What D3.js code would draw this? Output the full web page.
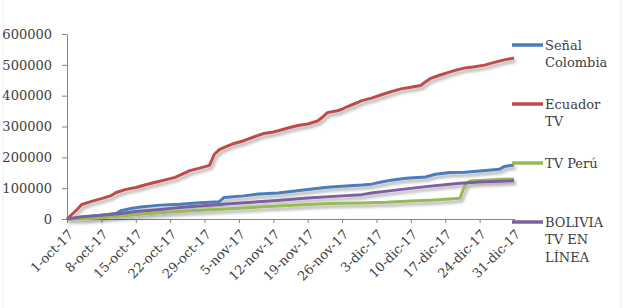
<!DOCTYPE html>
<html>
<head>
<meta charset="utf-8">
<script src="https://cdn.jsdelivr.net/npm/d3@7"></script>
<style>
  body { margin: 0; background: #fff; }
</style>
</head>
<body>
<div id="wrapper"></div>
<script>

// data

const tickDates = ["2017-10-01", "2017-10-08", "2017-10-15", "2017-10-22", "2017-10-29",
  "2017-11-05", "2017-11-12", "2017-11-19", "2017-11-26", "2017-12-03",
  "2017-12-10", "2017-12-17", "2017-12-24", "2017-12-31"];
const tickLabels = ["1-oct-17", "8-oct-17", "15-oct-17", "22-oct-17", "29-oct-17",
  "5-nov-17", "12-nov-17", "19-nov-17", "26-nov-17", "3-dic-17",
  "10-dic-17", "17-dic-17", "24-dic-17", "31-dic-17"];
const yTicks = [0, 100000, 200000, 300000, 400000, 500000, 600000];

const colombiaDates = ["2017-10-01", "2017-10-04", "2017-10-08", "2017-10-11", "2017-10-12", "2017-10-14",
  "2017-10-16", "2017-10-20", "2017-10-24", "2017-10-28", "2017-10-31", "2017-11-01", "2017-11-02",
  "2017-11-06", "2017-11-09", "2017-11-13", "2017-11-16", "2017-11-19", "2017-11-23", "2017-11-26",
  "2017-11-30", "2017-12-02", "2017-12-04", "2017-12-06", "2017-12-09", "2017-12-13", "2017-12-15",
  "2017-12-18", "2017-12-21", "2017-12-24", "2017-12-28", "2017-12-29", "2017-12-31"];
const colombiaValues = [0, 5000, 12000, 18000, 27000, 34000,
  39000, 45000, 48000, 53000, 55000, 56000, 70000,
  75000, 81000, 84000, 90000, 96000, 103000, 106000,
  110000, 113000, 120000, 126000, 132000, 136000, 145000,
  151000, 152000, 156000, 161000, 170000, 175000];

const ecuadorDates = ["2017-10-01", "2017-10-03", "2017-10-04", "2017-10-06", "2017-10-08", "2017-10-10",
  "2017-10-11", "2017-10-13", "2017-10-15", "2017-10-17", "2017-10-19", "2017-10-21", "2017-10-23",
  "2017-10-24", "2017-10-26", "2017-10-28", "2017-10-30", "2017-10-31", "2017-11-01", "2017-11-02",
  "2017-11-04", "2017-11-06", "2017-11-08", "2017-11-10", "2017-11-12", "2017-11-13", "2017-11-15",
  "2017-11-17", "2017-11-19", "2017-11-21", "2017-11-22", "2017-11-23", "2017-11-25", "2017-11-26",
  "2017-11-27", "2017-11-29", "2017-11-30", "2017-12-02", "2017-12-04", "2017-12-06", "2017-12-08",
  "2017-12-10", "2017-12-12", "2017-12-13", "2017-12-14", "2017-12-16", "2017-12-18", "2017-12-19",
  "2017-12-21", "2017-12-23", "2017-12-25", "2017-12-27", "2017-12-29", "2017-12-31"];
const ecuadorValues = [0, 30000, 47000, 57000, 66000, 76000,
  86000, 96000, 102000, 111000, 119000, 127000, 135000,
  142000, 157000, 165000, 174000, 210000, 225000, 232000,
  245000, 254000, 266000, 277000, 282000, 286000, 295000,
  303000, 308000, 318000, 330000, 345000, 351000, 356000,
  364000, 377000, 384000, 392000, 403000, 413000, 422000,
  427000, 433000, 445000, 456000, 467000, 477000, 482000,
  490000, 494000, 499000, 508000, 516000, 522000];

const peruDates = ["2017-10-01", "2017-10-05", "2017-10-09", "2017-10-13", "2017-10-17", "2017-10-21",
  "2017-10-26", "2017-10-31", "2017-11-05", "2017-11-10", "2017-11-15", "2017-11-20", "2017-11-25",
  "2017-11-30", "2017-12-05", "2017-12-10", "2017-12-15", "2017-12-20", "2017-12-21", "2017-12-22",
  "2017-12-25", "2017-12-28", "2017-12-31"];
const peruValues = [0, 1000, 6000, 11000, 17000, 22000,
  27000, 31000, 35000, 40000, 44000, 48000, 51000,
  52000, 54000, 58000, 62000, 67000, 110000, 123000,
  126000, 129000, 130000];

const boliviaDates = ["2017-10-01", "2017-10-04", "2017-10-08", "2017-10-12", "2017-10-15", "2017-10-20",
  "2017-10-24", "2017-10-28", "2017-11-01", "2017-11-06", "2017-11-12", "2017-11-19", "2017-11-26",
  "2017-11-30", "2017-12-02", "2017-12-06", "2017-12-13", "2017-12-20", "2017-12-24", "2017-12-31"];
const boliviaValues = [0, 7000, 12000, 18000, 24000, 31000,
  37000, 42000, 47000, 53000, 59000, 68000, 75000,
  79000, 84000, 92000, 105000, 116000, 120000, 124000];

const seriesNames = ["Señal Colombia", "Ecuador TV", "TV Perú", "BOLIVIA TV EN LÍNEA"];
const legendLines = [["Señal", "Colombia"], ["Ecuador", "TV"], ["TV Perú"], ["BOLIVIA", "TV EN", "LÍNEA"]];
const seriesColors = ["#4a7ebb", "#be4b48", "#98b954", "#7d60a0"];

const FONT = "'DejaVu Serif', serif";
const TEXT_COLOR = "#404040";

// chart dimensions

const dms = {
  width: 634,
  height: 308,
  margins: { top: 34, right: 120, bottom: 89, left: 67 }
};
dms.innerWidth = 514 - dms.margins.left;
dms.innerHeight = 219 - dms.margins.top;

const parseDate = d3.utcParse("%Y-%m-%d");

const series = [
  [colombiaDates, colombiaValues],
  [ecuadorDates, ecuadorValues],
  [peruDates, peruValues],
  [boliviaDates, boliviaValues]
].map(([dates, values], i) => ({
  name: seriesNames[i],
  color: seriesColors[i],
  points: dates.map((d, j) => ({ date: parseDate(d), value: values[j] }))
}));

// canvas

const svg = d3.select("#wrapper")
  .append("svg")
    .attr("width", dms.width)
    .attr("height", dms.height)
    .attr("font-family", FONT);

const defs = svg.append("defs");
defs.append("filter")
    .attr("id", "shadow")
    .attr("x", "-10%").attr("y", "-10%")
    .attr("width", "130%").attr("height", "160%")
  .append("feDropShadow")
    .attr("dx", 2)
    .attr("dy", 3)
    .attr("stdDeviation", 1.6)
    .attr("flood-color", "#000")
    .attr("flood-opacity", 0.3);

// faint chart frame
svg.append("line")
    .attr("x1", 3).attr("x2", 3).attr("y1", 0).attr("y2", dms.height)
    .attr("stroke", "#f0f0f0");
svg.append("line")
    .attr("x1", 621).attr("x2", 621).attr("y1", 0).attr("y2", dms.height)
    .attr("stroke", "#ececec");

const inner = svg.append("g")
    .attr("transform", `translate(${dms.margins.left},${dms.margins.top})`);

// scales

const xScale = d3.scaleUtc()
  .domain([parseDate(tickDates[0]), parseDate(tickDates[tickDates.length - 1])])
  .range([0, dms.innerWidth]);

const yScale = d3.scaleLinear()
  .domain([0, 600000])
  .range([dms.innerHeight, 0]);

// axes

const yAxis = inner.append("g")
  .call(d3.axisLeft(yScale).tickValues(yTicks).tickSize(5).tickSizeOuter(0).tickFormat(d3.format("d")))
  .attr("font-family", FONT)
  .attr("font-size", 13)
  .call(g => g.selectAll("line, path").attr("stroke", "#868686"))
  .call(g => g.selectAll("text")
    .attr("x", -15)
    .attr("fill", TEXT_COLOR));

const xAxis = inner.append("g")
  .attr("transform", `translate(0,${dms.innerHeight})`)
  .call(d3.axisBottom(xScale).tickValues(tickDates.map(parseDate)).tickSize(4).tickSizeOuter(0).tickFormat(""))
  .call(g => g.selectAll("line, path").attr("stroke", "#868686"));

xAxis.selectAll(".tick-label")
  .data(tickDates)
  .join("text")
    .attr("class", "tick-label")
    .attr("text-anchor", "end")
    .attr("transform", d => `translate(${xScale(parseDate(d)) + 4},${13}) rotate(-45)`)
    .attr("dy", "0.35em")
    .attr("font-family", FONT)
    .attr("font-size", 13)
    .attr("fill", TEXT_COLOR)
    .text((d, i) => tickLabels[i]);

// lines

const lineGenerator = d3.line()
  .x(d => xScale(d.date))
  .y(d => yScale(d.value));

inner.append("g")
    .attr("filter", "url(#shadow)")
  .selectAll("path")
  .data(series)
  .join("path")
    .attr("d", d => lineGenerator(d.points))
    .attr("fill", "none")
    .attr("stroke", d => d.color)
    .attr("stroke-width", 3)
    .attr("stroke-linejoin", "round");

// legend

const legendY = [45, 104, 163, 222];

const legend = svg.append("g")
  .selectAll("g")
  .data(series)
  .join("g")
    .attr("transform", (d, i) => `translate(512,${legendY[i]})`);

legend.append("line")
    .attr("x1", 0).attr("x2", 31)
    .attr("stroke", d => d.color)
    .attr("stroke-width", 3.5);

legend.append("text")
    .attr("font-family", FONT)
    .attr("font-size", 13)
    .attr("fill", TEXT_COLOR)
  .selectAll("tspan")
  .data((d, i) => legendLines[i])
  .join("tspan")
    .attr("x", 33)
    .attr("y", (d, i) => i * 17.8)
    .attr("dy", "0.35em")
    .text(d => d);

</script>
</body>
</html>
